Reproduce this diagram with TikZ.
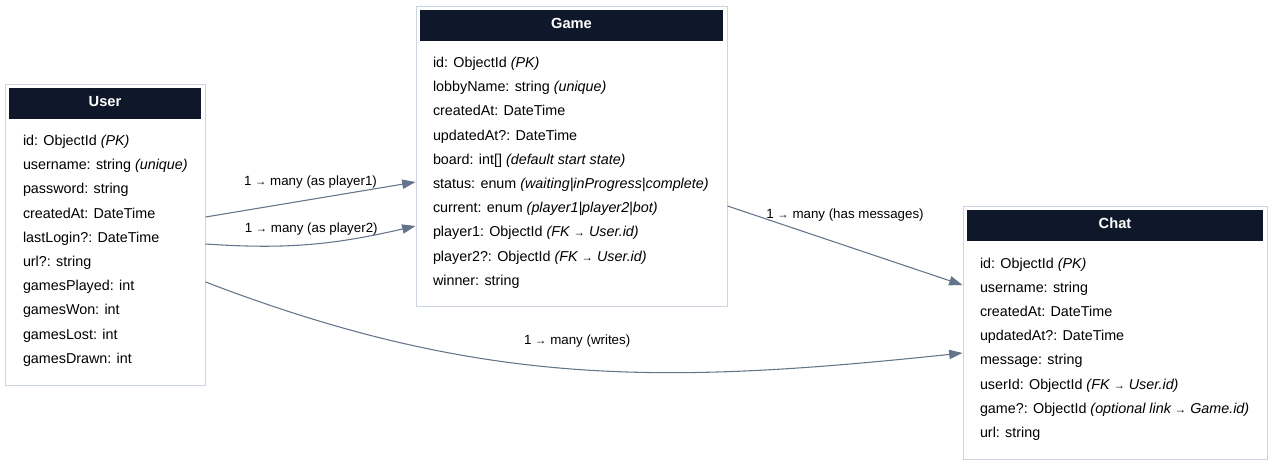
\documentclass[tikz,border=0pt]{standalone}
\usepackage{fontspec}
\setmainfont{Liberation Sans}
\usepackage{xcolor}
\usetikzlibrary{arrows.meta, positioning}
\definecolor{headbg}{HTML}{0F172A}
\definecolor{boxline}{HTML}{CBD5E1}
\definecolor{relline}{HTML}{64748B}
\newcommand{\sarr}{{\fontsize{8.5}{8.5}\selectfont →}}

\begin{document}
\begin{tikzpicture}[x=0.75pt, y=0.75pt,
    entity/.style={draw=boxline, line width=0.75pt, inner sep=0pt},
    header/.style={fill=headbg, text=white, inner sep=0pt, minimum height=23.25pt,
        text depth=3pt, font=\bfseries\fontsize{11}{13}\selectfont},
    fields/.style={align=left, inner sep=0pt, font=\fontsize{10.75}{18.15}\selectfont},
    rel/.style={draw=relline, line width=0.8pt, -{Triangle[length=10pt, width=7pt]}},
    lbl/.style={font=\fontsize{10}{12}\selectfont, inner sep=1pt}]
    \useasboundingbox (0,0) rectangle (1275,-464);

    % entities
    \node (user) [entity, minimum width=150pt, minimum height=225.75pt] at (105,-234.5) {};
    \node (userhead) [header, minimum width=144pt, below=3pt of user.north] {User};
    \node (userfields) [fields, below right=11.85pt and 10.5pt of userhead.south west]
        {id: ObjectId \textit{(PK)}\\
         username: string \textit{(unique)}\\
         password: string\\
         createdAt: DateTime\\
         lastLogin?: DateTime\\
         url?: string\\
         gamesPlayed: int\\
         gamesWon: int\\
         gamesLost: int\\
         gamesDrawn: int};

    \node (game) [entity, minimum width=233.25pt, minimum height=225pt] at (571.5,-156) {};
    \node (gamehead) [header, minimum width=227.25pt, below=3pt of game.north] {Game};
    \node (gamefields) [fields, below right=11.85pt and 9.75pt of gamehead.south west]
        {id: ObjectId \textit{(PK)}\\
         lobbyName: string \textit{(unique)}\\
         createdAt: DateTime\\
         updatedAt?: DateTime\\
         board: int[] \textit{(default start state)}\\
         status: enum \textit{(waiting|inProgress|complete)}\\
         current: enum \textit{(player1|player2|bot)}\\
         player1: ObjectId \textit{(FK \sarr{} User.id)}\\
         player2?: ObjectId \textit{(FK \sarr{} User.id)}\\
         winner: string};

    \node (chat) [entity, minimum width=228pt, minimum height=189.75pt] at (1115,-332.5) {};
    \node (chathead) [header, minimum width=222pt, below=3pt of chat.north] {Chat};
    \node (chatfields) [fields, below right=12.3pt and 9.75pt of chathead.south west]
        {id: ObjectId \textit{(PK)}\\
         username: string\\
         createdAt: DateTime\\
         updatedAt?: DateTime\\
         message: string\\
         userId: ObjectId \textit{(FK \sarr{} User.id)}\\
         game?: ObjectId \textit{(optional link \sarr{} Game.id)}\\
         url: string};

    % relations
    \draw [rel] ([yshift=13.1pt]user.east) -- node[lbl, above=7pt] {1 \sarr{} many (as player1)} ([yshift=-19.5pt]game.west);
    \draw [rel] ([yshift=-7.1pt]user.east) to[out=-4, in=193] node[lbl, above=5.5pt] {1 \sarr{} many (as player2)} ([yshift=-52.5pt]game.west);
    \draw [rel] ([yshift=-37.5pt]game.east) -- node[lbl, above=16.5pt] {1 \sarr{} many (has messages)} ([yshift=35.6pt]chat.west);
    \draw [rel] ([yshift=-35.6pt]user.east) to[out=-21, in=186] node[lbl, above=15pt] {1 \sarr{} many (writes)} ([yshift=-15.4pt]chat.west);
\end{tikzpicture}
\end{document}
